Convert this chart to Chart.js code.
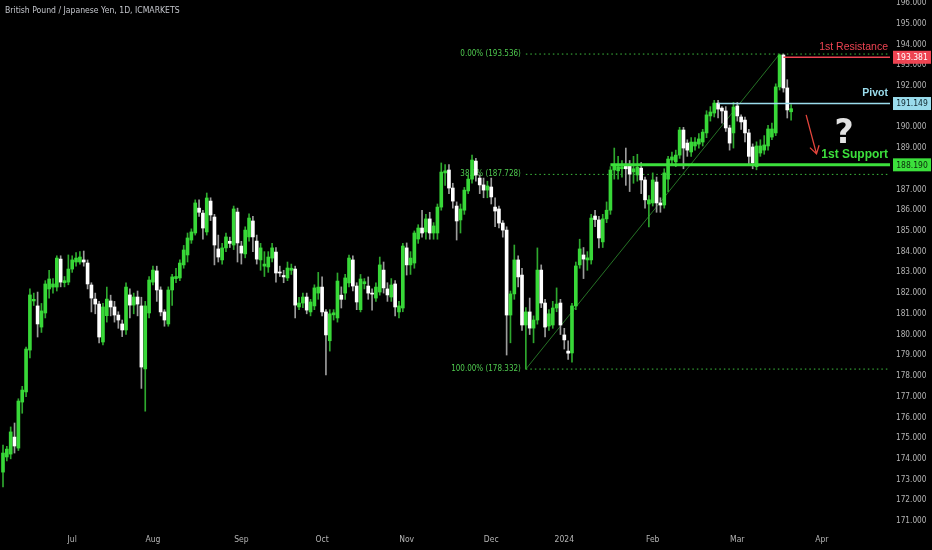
<!DOCTYPE html>
<html>
<head>
<meta charset="utf-8">
<title>GBPJPY 1D</title>
<script src="https://cdn.jsdelivr.net/npm/chart.js@4.4.1/dist/chart.umd.min.js"></script>
<style>
  html, body { margin: 0; padding: 0; background: #000; }
  #wrap { width: 932px; height: 550px; }
</style>
</head>
<body>
<div id="wrap"><canvas id="chart" width="932" height="550"></canvas></div>
<script>
// daily candles, one per trading day (index 0 = early June 2023)
var opens = [
  173.36, 174.09, 174.23, 175.05, 174.52, 176.74, 177.23, 179.25, 181.62, 181.38,
  180.36, 181.04, 182.20, 182.29, 182.29, 183.64, 182.50, 182.53, 183.16, 183.50,
  183.50, 183.60, 183.45, 182.39, 181.71, 181.47, 179.64, 180.91, 181.62, 181.33,
  180.94, 180.51, 180.22, 181.91, 181.42, 181.81, 181.38, 178.34, 181.04, 182.53,
  183.07, 182.15, 181.09, 180.51, 182.15, 182.70, 182.73, 183.36, 183.84, 184.56,
  184.90, 186.10, 185.86, 184.95, 186.44, 185.67, 184.13, 183.60, 184.18, 184.50,
  184.32, 185.91, 184.27, 183.89, 184.71, 185.48, 184.51, 183.60, 183.30, 183.26,
  183.69, 183.98, 183.00, 182.85, 182.73, 183.10, 183.16, 181.33, 181.52, 181.81,
  181.09, 181.38, 182.00, 182.29, 181.09, 179.70, 180.95, 180.80, 181.90, 182.00,
  182.49, 183.60, 182.34, 181.20, 182.45, 182.34, 182.00, 181.76, 182.05, 183.11,
  182.20, 181.81, 182.44, 181.09, 181.28, 184.18, 183.36, 183.45, 184.61, 185.14,
  184.95, 185.58, 184.90, 184.90, 186.15, 187.80, 187.94, 187.07, 186.20, 185.53,
  186.00, 186.93, 187.50, 188.37, 187.55, 187.22, 186.97, 187.12, 186.15, 186.06,
  185.38, 185.04, 180.94, 181.96, 183.60, 182.87, 180.46, 181.09, 180.31, 180.70,
  183.11, 181.52, 180.41, 180.46, 181.28, 181.52, 179.98, 179.20, 179.11, 181.38,
  183.36, 183.84, 183.60, 183.60, 185.72, 185.53, 184.47, 185.58, 186.00, 187.94,
  187.90, 188.00, 188.20, 188.18, 187.85, 187.70, 188.03, 187.46, 186.30, 186.35,
  187.36, 186.35, 186.25, 187.50, 188.42, 188.33, 188.66, 189.87, 189.24, 188.81,
  189.10, 189.19, 189.29, 189.73, 190.55, 190.69, 191.17, 190.93, 190.79, 189.97,
  189.73, 191.03, 190.50, 190.35, 189.73, 189.05, 188.10, 188.76, 188.90, 189.10,
  189.53, 189.73, 191.95, 193.49, 191.90, 190.75
];
var highs = [
  174.67, 174.60, 175.54, 175.73, 176.90, 177.50, 179.40, 182.20, 182.00, 182.05,
  181.50, 182.60, 183.10, 182.70, 183.80, 183.80, 182.80, 183.84, 183.80, 183.95,
  184.00, 184.03, 183.60, 182.50, 182.00, 181.60, 181.50, 182.29, 181.90, 181.60,
  181.10, 180.70, 182.50, 182.20, 182.00, 182.10, 181.80, 181.60, 182.80, 183.30,
  183.30, 182.30, 181.20, 182.30, 182.90, 183.20, 183.60, 184.30, 184.90, 185.10,
  186.50, 186.50, 186.00, 186.83, 186.60, 185.80, 184.80, 184.40, 184.90, 184.70,
  186.20, 186.10, 184.50, 185.20, 185.82, 185.70, 184.80, 184.40, 184.00, 184.00,
  184.40, 184.20, 183.30, 183.10, 183.50, 183.40, 183.30, 181.80, 182.00, 182.00,
  181.70, 182.40, 183.00, 182.78, 181.20, 181.20, 181.20, 182.97, 182.30, 182.90,
  183.84, 183.80, 182.50, 182.90, 182.70, 182.78, 182.20, 182.50, 183.74, 183.50,
  182.50, 182.70, 182.60, 181.60, 184.40, 184.42, 184.00, 185.00, 185.30, 186.00,
  185.80, 185.90, 185.40, 186.30, 188.28, 188.20, 188.20, 187.30, 186.40, 186.30,
  187.10, 187.70, 188.66, 188.50, 187.70, 187.55, 187.40, 187.55, 186.60, 186.20,
  185.50, 185.20, 182.10, 184.32, 183.80, 183.20, 181.30, 181.76, 180.90, 184.18,
  183.36, 181.70, 181.20, 181.60, 182.25, 181.70, 180.30, 179.70, 181.50, 183.50,
  184.60, 184.20, 184.00, 185.80, 186.00, 185.70, 185.80, 186.40, 188.10, 189.00,
  188.60, 188.40, 189.00, 188.40, 188.60, 188.70, 188.30, 187.60, 186.70, 187.80,
  187.60, 186.60, 188.00, 188.60, 188.80, 188.90, 190.00, 190.00, 189.40, 189.50,
  189.50, 189.70, 189.90, 190.80, 191.00, 191.30, 191.30, 191.00, 191.00, 190.10,
  191.20, 191.20, 190.60, 190.50, 189.90, 189.20, 189.30, 189.40, 189.60, 190.10,
  190.20, 192.10, 193.536, 193.536, 192.30, 191.10
];
var lows = [
  172.64, 173.90, 174.00, 174.28, 174.40, 176.20, 177.00, 178.87, 181.40, 179.88,
  180.10, 180.80, 181.76, 182.00, 182.10, 182.30, 182.30, 182.40, 183.00, 183.30,
  183.40, 183.30, 182.20, 181.09, 181.00, 179.60, 179.50, 180.60, 180.90, 180.60,
  180.30, 179.90, 180.00, 180.80, 181.00, 180.90, 177.40, 176.30, 180.80, 182.40,
  181.60, 180.90, 180.40, 180.40, 181.40, 182.50, 182.60, 183.20, 183.50, 184.40,
  184.80, 185.70, 184.60, 184.80, 185.50, 183.36, 183.50, 183.40, 184.00, 184.20,
  184.10, 183.50, 183.40, 183.70, 184.50, 184.00, 183.40, 183.10, 182.80, 183.00,
  183.50, 182.53, 182.80, 182.50, 182.60, 182.90, 180.80, 181.20, 181.30, 181.00,
  180.90, 181.20, 181.70, 180.90, 178.05, 179.20, 180.70, 180.60, 181.28, 181.70,
  182.30, 182.10, 181.20, 181.09, 182.20, 181.70, 181.18, 181.60, 181.90, 182.00,
  181.60, 181.60, 180.90, 180.80, 181.10, 182.87, 182.90, 183.20, 184.40, 184.70,
  184.60, 184.60, 184.60, 184.60, 186.00, 187.20, 186.80, 186.10, 184.56, 184.90,
  185.80, 186.80, 187.30, 187.40, 186.80, 186.60, 186.60, 186.30, 185.20, 185.14,
  184.70, 179.01, 179.60, 181.70, 182.30, 180.20, 178.332, 180.00, 179.60, 180.50,
  181.30, 179.88, 180.20, 180.30, 181.10, 180.00, 179.30, 178.80, 178.67, 181.20,
  183.20, 182.70, 183.10, 183.40, 185.20, 184.18, 184.20, 185.40, 185.80, 187.50,
  187.50, 187.60, 187.20, 186.90, 187.30, 187.40, 186.80, 186.10, 185.19, 186.20,
  185.90, 185.90, 186.10, 186.90, 188.20, 188.10, 188.50, 188.00, 188.60, 188.60,
  188.90, 189.00, 189.10, 189.50, 190.30, 190.50, 190.45, 190.20, 189.80, 188.90,
  189.00, 190.30, 189.90, 189.30, 188.20, 188.00, 187.95, 188.60, 188.70, 188.90,
  189.40, 189.60, 191.80, 191.70, 190.45, 190.35
];
var closes = [
  174.28, 174.47, 175.30, 174.62, 176.79, 177.32, 179.30, 181.91, 181.70, 180.51,
  181.14, 182.44, 182.68, 182.44, 183.69, 182.53, 182.60, 183.16, 183.60, 183.69,
  183.74, 183.50, 182.44, 181.76, 181.47, 179.88, 181.33, 181.71, 181.33, 180.94,
  180.70, 180.22, 182.29, 181.42, 181.81, 181.47, 178.43, 181.38, 182.63, 183.11,
  182.15, 181.09, 180.70, 182.15, 182.78, 182.80, 183.45, 184.08, 184.66, 184.95,
  186.35, 185.90, 185.14, 186.59, 185.77, 184.32, 183.74, 184.18, 184.71, 184.40,
  186.06, 184.42, 183.93, 185.04, 185.62, 184.71, 183.64, 184.18, 183.40, 183.74,
  184.18, 182.97, 182.97, 182.78, 183.21, 183.20, 181.42, 181.52, 181.81, 181.18,
  181.57, 182.25, 182.29, 181.09, 179.98, 181.00, 181.05, 182.58, 181.70, 182.73,
  183.69, 182.34, 181.57, 182.68, 182.55, 182.00, 181.95, 182.29, 183.36, 182.25,
  181.91, 182.39, 181.33, 181.38, 184.27, 183.36, 183.69, 184.90, 185.14, 184.90,
  185.58, 184.90, 185.24, 186.15, 187.84, 187.90, 187.07, 186.44, 185.48, 186.06,
  186.97, 187.50, 188.42, 187.70, 187.22, 186.97, 187.17, 186.64, 185.96, 185.38,
  185.04, 180.94, 181.96, 183.60, 182.78, 180.46, 181.09, 180.31, 180.70, 183.11,
  181.52, 180.36, 181.00, 181.28, 181.47, 180.46, 179.74, 179.10, 181.38, 183.31,
  184.13, 183.64, 183.70, 185.62, 185.55, 184.66, 185.58, 186.00, 187.94, 188.18,
  188.10, 188.10, 188.00, 187.74, 188.00, 188.08, 187.46, 186.50, 186.50, 187.46,
  186.35, 186.25, 187.80, 188.47, 188.57, 188.66, 189.87, 189.00, 188.90, 189.29,
  189.29, 189.44, 189.77, 190.60, 190.74, 191.17, 190.88, 190.79, 189.97, 189.24,
  190.98, 190.55, 190.26, 189.73, 188.60, 188.28, 189.10, 189.10, 189.15, 189.92,
  189.92, 191.95, 193.49, 191.90, 190.84, 190.90
];

// month labels sit on the first trading day of each month
var monthNames = ['Jul', 'Aug', 'Sep', 'Oct', 'Nov', 'Dec', '2024', 'Feb', 'Mar', 'Apr'];
var monthIndex = [18, 39, 62, 83, 105, 127, 146, 169, 191, 213];
var priceTicks = [171, 172, 173, 174, 175, 176, 177, 178, 179, 180, 181, 182, 183,
  184, 185, 186, 187, 188, 189, 190, 191, 192, 193, 194, 195, 196];

// fibonacci retracement, low candle -> high candle
var fibPct = ['0.00%', '38.2%', '100.00%'];
var fibPrice = [193.536, 187.728, 178.332];
var fibLowIndex = 136;
var fibHighIndex = 202;

// drawn levels
var levelNames = ['1st Resistance', 'Pivot', '1st Support'];
var levelPrice = [193.381, 191.149, 188.190];
var levelFrom = [203, 186, 158];
var levelColor = ['#ee4452', '#9adcec', '#3ce03c'];
var levelBoxText = ['#ffffff', '#10262c', '#0b260b'];

// arrow and question mark (index, price)
var arrowFrom = [208.9, 190.6];
var arrowTo = [211.6, 188.72];
var questionAt = [218.8, 189.65];

var X_MIN = -0.78, X_MAX = 230.72;
var Y_MIN = 170.566, Y_MAX = 196.145;

var narrow = '"Liberation Sans Narrow", "DejaVu Sans Condensed", "Liberation Sans", sans-serif';
var bullColor = '#38d838', bearColor = '#ffffff';

var bodies = [], wicks = [], bodyColors = [], wickColors = [];
for (let i = 0; i < opens.length; i++) {
  var up = closes[i] >= opens[i];
  bodies.push({x: i, y: [Math.min(opens[i], closes[i]), Math.max(opens[i], closes[i])]});
  wicks.push({x: i, y: [lows[i], highs[i]]});
  bodyColors.push(up ? bullColor : bearColor);
  wickColors.push(up ? '#2ea82e' : '#9c9c9c');
}

var lineSets = [];
for (let i = 0; i < fibPrice.length; i++) {
  lineSets.push({
    type: 'line', order: 3,
    data: [{x: fibLowIndex, y: fibPrice[i]}, {x: X_MAX, y: fibPrice[i]}],
    borderColor: '#3fbf3f', borderWidth: 1, borderDash: [1.5, 3],
    pointRadius: 0
  });
}
lineSets.push({
  type: 'line', order: 3,
  data: [{x: fibLowIndex, y: fibPrice[2]}, {x: fibHighIndex, y: fibPrice[0]}],
  borderColor: '#2f8f2f', borderWidth: 0.8, pointRadius: 0
});
for (let i = 0; i < levelPrice.length; i++) {
  lineSets.push({
    type: 'line', order: 0,
    data: [{x: levelFrom[i], y: levelPrice[i]}, {x: X_MAX, y: levelPrice[i]}],
    borderColor: levelColor[i], borderWidth: i == 2 ? 3 : 1.5,
    pointRadius: 0
  });
}

var overlay = {
  id: 'overlay',
  beforeDatasetsDraw: function(chart) {
    // fib labels sit under the candles
    var ctx = chart.ctx, xs = chart.scales.x, ys = chart.scales.y;
    ctx.save();
    ctx.font = '8px ' + narrow;
    ctx.fillStyle = '#4fc94f';
    ctx.textAlign = 'right';
    ctx.textBaseline = 'middle';
    for (let i = 0; i < fibPct.length; i++) {
      ctx.fillText(fibPct[i] + ' (' + fibPrice[i].toFixed(3) + ')',
        xs.getPixelForValue(fibLowIndex) - 5, ys.getPixelForValue(fibPrice[i]));
    }
    ctx.restore();
  },
  afterDatasetsDraw: function(chart) {
    var ctx = chart.ctx, xs = chart.scales.x, ys = chart.scales.y;
    var area = chart.chartArea;
    ctx.save();

    // title
    ctx.font = '8.6px ' + narrow;
    ctx.fillStyle = '#c4c6cc';
    ctx.textAlign = 'left';
    ctx.textBaseline = 'middle';
    ctx.fillText('British Pound / Japanese Yen, 1D, ICMARKETS', 5, 11);

    // level names + price boxes
    for (let i = 0; i < levelPrice.length; i++) {
      var py = ys.getPixelForValue(levelPrice[i]);
      ctx.font = (i == 0 ? '' : 'bold ') + (i == 2 ? '12px' : '10.5px') + ' "Liberation Sans", Arial, sans-serif';
      ctx.fillStyle = levelColor[i];
      ctx.textAlign = 'right';
      ctx.fillText(levelNames[i], area.right - 2, py - 10.5);

      ctx.fillRect(area.right + 3, py - 6.5, 38, 13);
      ctx.font = '8.5px ' + narrow;
      ctx.fillStyle = levelBoxText[i];
      ctx.textAlign = 'center';
      ctx.fillText(levelPrice[i].toFixed(3), area.right + 22, py + 0.5);
    }

    // red arrow
    var ax = xs.getPixelForValue(arrowFrom[0]), ay = ys.getPixelForValue(arrowFrom[1]);
    var bx = xs.getPixelForValue(arrowTo[0]), by = ys.getPixelForValue(arrowTo[1]);
    var ang = Math.atan2(by - ay, bx - ax);
    ctx.strokeStyle = '#e5453c';
    ctx.lineWidth = 1.3;
    ctx.beginPath();
    ctx.moveTo(ax, ay);
    ctx.lineTo(bx, by);
    ctx.moveTo(bx - 9 * Math.cos(ang - 0.55), by - 9 * Math.sin(ang - 0.55));
    ctx.lineTo(bx, by);
    ctx.lineTo(bx - 9 * Math.cos(ang + 0.55), by - 9 * Math.sin(ang + 0.55));
    ctx.stroke();

    // question mark
    ctx.font = 'bold 33px "DejaVu Sans", sans-serif';
    ctx.fillStyle = '#e2e2e2';
    ctx.textAlign = 'center';
    ctx.fillText('?', xs.getPixelForValue(questionAt[0]), ys.getPixelForValue(questionAt[1]));

    ctx.restore();
  }
};

var ctx = document.getElementById('chart');
var myChart = new Chart(ctx, {
  type: 'bar',
  data: {
    datasets: [{
      order: 1,
      data: bodies,
      backgroundColor: bodyColors,
      barThickness: 3,
      minBarLength: 1,
      grouped: false
    }, {
      order: 2,
      data: wicks,
      backgroundColor: wickColors,
      barThickness: 1,
      grouped: false
    }].concat(lineSets)
  },
  options: {
    responsive: false,
    devicePixelRatio: 1,
    animation: false,
    events: [],
    layout: { padding: 0 },
    plugins: {
      legend: { display: false },
      tooltip: { enabled: false }
    },
    scales: {
      x: {
        type: 'linear',
        min: X_MIN,
        max: X_MAX,
        offset: false,
        grid: { display: false, drawTicks: false },
        border: { display: false },
        ticks: {
          color: '#b4b4b4',
          font: { size: 8.5, family: narrow },
          padding: 5,
          maxRotation: 0,
          autoSkip: false,
          callback: function(v) {
            var k = monthIndex.indexOf(v);
            return k >= 0 ? monthNames[k] : '';
          }
        },
        afterBuildTicks: function(axis) {
          axis.ticks = monthIndex.map(function(v) { return {value: v}; });
        },
        afterFit: function(axis) {
          axis.height = 20;
          axis.paddingLeft = 0;
          axis.paddingRight = 0;
        }
      },
      y: {
        type: 'linear',
        position: 'right',
        min: Y_MIN,
        max: Y_MAX,
        beginAtZero: false,
        grid: { display: false, drawTicks: false },
        border: { display: false },
        ticks: {
          color: '#b4b4b4',
          font: { size: 8.2, family: narrow },
          padding: 6,
          callback: function(v) { return v.toFixed(3); }
        },
        afterBuildTicks: function(axis) {
          axis.ticks = priceTicks.map(function(v) { return {value: v}; });
        },
        afterFit: function(axis) {
          axis.width = 42;
          axis.paddingTop = 0;
          axis.paddingBottom = 0;
        }
      }
    }
  },
  plugins: [overlay]
});
</script>
</body>
</html>
